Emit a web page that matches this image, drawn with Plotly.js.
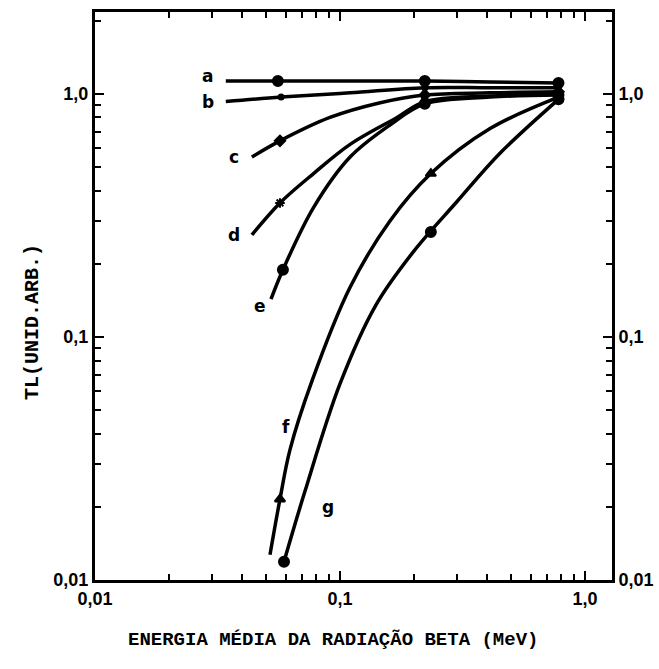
<!DOCTYPE html>
<html>
<head>
<meta charset="utf-8">
<script src="https://cdn.plot.ly/plotly-3.0.1.min.js"></script>
<style>html,body{margin:0;padding:0;background:#fff;}#chart{width:659px;height:669px;}</style>
</head>
<body>
<div id="chart"></div>
<script>
// ---- data (energy in MeV, TL in arbitrary units) ----
const curveNames = ['a','b','c','d','e','f','g'];

// points along each drawn curve
const aLineE = [0.0342, 0.0558, 0.110, 0.222, 0.41, 0.78];
const aLineTL = [1.13, 1.13, 1.13, 1.13, 1.12, 1.11];
const bLineE = [0.0342, 0.0575, 0.110, 0.222, 0.41, 0.78];
const bLineTL = [0.93, 0.97, 1.01, 1.06, 1.06, 1.06];
const cLineE = [0.0437, 0.0569, 0.091, 0.146, 0.222, 0.41, 0.78];
const cLineTL = [0.55, 0.641, 0.80, 0.92, 0.99, 1.01, 1.02];
const dLineE = [0.0437, 0.0569, 0.078, 0.110, 0.171, 0.222, 0.41, 0.78];
const dLineTL = [0.263, 0.356, 0.47, 0.62, 0.80, 0.93, 0.98, 1.0];
const eLineE = [0.0523, 0.0585, 0.0783, 0.110, 0.160, 0.222, 0.41, 0.78];
const eLineTL = [0.143, 0.189, 0.343, 0.55, 0.745, 0.91, 0.97, 0.99];
const fLineE = [0.0518, 0.0569, 0.0625, 0.0769, 0.110, 0.160, 0.235, 0.41, 0.78];
const fLineTL = [0.0127, 0.0215, 0.0343, 0.0659, 0.160, 0.300, 0.47, 0.72, 0.97];
const gLineE = [0.0591, 0.0718, 0.100, 0.140, 0.200, 0.300, 0.45, 0.78];
const gLineTL = [0.0119, 0.023, 0.0641, 0.135, 0.225, 0.36, 0.57, 0.95];

// measured points (markers)
const aPtE = [0.0558, 0.222, 0.78];  const aPtTL = [1.13, 1.13, 1.11];
const bPtE = [0.0575, 0.222, 0.78];  const bPtTL = [0.97, 1.06, 1.06];
const cPtE = [0.0569, 0.222, 0.78];  const cPtTL = [0.641, 0.99, 1.02];
const dPtE = [0.0569, 0.222, 0.78];  const dPtTL = [0.356, 0.93, 1.0];
const ePtE = [0.0585, 0.222, 0.78];  const ePtTL = [0.189, 0.91, 0.99];
const fPtE = [0.0569, 0.235, 0.78];  const fPtTL = [0.0215, 0.47, 0.97];
const gPtE = [0.0591, 0.235, 0.78];  const gPtTL = [0.0119, 0.27, 0.95];

const tickVals = [0.01, 0.1, 1];
const tickText = ['0,01', '0,1', '1,0'];

// ---- figure ----
const lines = [
  [aLineE, aLineTL], [bLineE, bLineTL], [cLineE, cLineTL], [dLineE, dLineTL],
  [eLineE, eLineTL], [fLineE, fLineTL], [gLineE, gLineTL]
];
const pts = [
  [aPtE, aPtTL], [bPtE, bPtTL], [cPtE, cPtTL], [dPtE, dPtTL],
  [ePtE, ePtTL], [fPtE, fPtTL], [gPtE, gPtTL]
];
const symbols = ['circle', 'circle', 'diamond', 'asterisk-open', 'circle', 'triangle-up', 'circle'];
const sizes = [10, 5, 8, 8, 10, 9, 10];

const traces = [];
lines.forEach((l, i) => {
  traces.push({
    x: l[0], y: l[1], mode: 'lines', type: 'scatter',
    line: {color: '#000', width: 3.5, shape: 'spline', smoothing: 1},
    yaxis: i === 6 ? 'y2' : 'y',
    hoverinfo: 'skip', showlegend: false, name: curveNames[i]
  });
});
pts.forEach((p, i) => {
  traces.push({
    x: p[0], y: p[1], mode: 'markers', type: 'scatter',
    marker: {color: '#000', size: sizes[i], symbol: symbols[i], line: {color: '#000', width: 2}},
    hoverinfo: 'skip', showlegend: false, name: curveNames[i]
  });
});

const tickFont = {family: 'Liberation Sans, Arial, sans-serif', size: 18, color: '#000', weight: 'bold'};
const yRange = [-2, 0.337];
const axisCommon = {
  type: 'log', showgrid: false, zeroline: false,
  showline: true, linecolor: '#000', linewidth: 3,
  ticks: 'inside', ticklen: 9, tickwidth: 2, tickcolor: '#000',
  tickmode: 'array', tickvals: tickVals, ticktext: tickText,
  tickfont: tickFont,
  minor: {ticks: 'inside', ticklen: 6, tickwidth: 2, tickcolor: '#000', dtick: 'D1', showgrid: false}
};

const letterFont = {family: 'DejaVu Sans, sans-serif', size: 17, color: '#000', weight: 'bold'};
const letterPos = [
  ['a', 0.0288, 1.19], ['b', 0.0288, 0.93], ['c', 0.037, 0.55], ['d', 0.037, 0.262],
  ['e', 0.047, 0.134], ['f', 0.0600, 0.0427], ['g', 0.0893, 0.0200]
];
const annotations = letterPos.map(t => ({
  text: t[0], x: Math.log10(t[1]), y: Math.log10(t[2]), xref: 'x', yref: 'y',
  showarrow: false, font: letterFont, xanchor: 'center', yanchor: 'middle'
}));
annotations.push({
  text: 'TL(UNID.ARB.)', textangle: -90, xref: 'paper', yref: 'paper',
  x: -0.121, y: 0.455, xanchor: 'center', yanchor: 'middle', showarrow: false,
  font: {family: 'Liberation Mono, monospace', size: 20, color: '#000', weight: 'bold'}
});
annotations.push({
  text: 'ENERGIA MÉDIA DA RADIAÇÃO BETA (MeV)', xref: 'paper', yref: 'paper',
  x: 0.46, y: -0.106, xanchor: 'center', yanchor: 'middle', showarrow: false,
  font: {family: 'Liberation Mono, monospace', size: 19, color: '#000', weight: 'bold'}
});

const layout = {
  width: 659, height: 669,
  margin: {l: 95, r: 47, t: 12, b: 89},
  paper_bgcolor: '#fff', plot_bgcolor: '#fff',
  showlegend: false,
  xaxis: Object.assign({}, axisCommon, {range: [-2, 0.1106], mirror: 'ticks'}),
  yaxis: Object.assign({}, axisCommon, {range: yRange, mirror: true}),
  yaxis2: Object.assign({}, axisCommon, {range: yRange, overlaying: 'y', side: 'right', anchor: 'x'}),
  annotations: annotations
};

Plotly.newPlot('chart', traces, layout, {staticPlot: true, displayModeBar: false});
</script>
</body>
</html>
